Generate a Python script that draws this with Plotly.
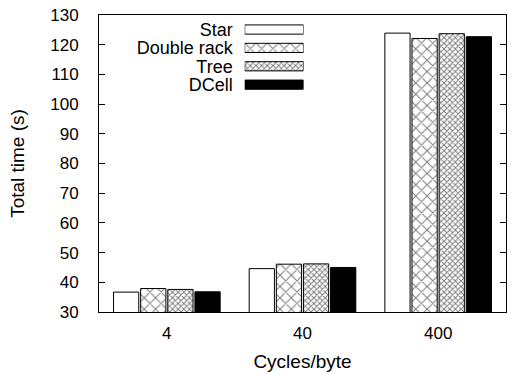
import plotly.graph_objects as go

categories = ["4", "40", "400"]
series_names = ["Star", "Double rack", "Tree", "DCell"]
star = [36.7, 44.6, 123.9]
double_rack = [37.9, 46.1, 122.1]
tree = [37.6, 46.2, 123.7]
dcell = [36.8, 45.0, 122.7]
y_ticks = [30, 40, 50, 60, 70, 80, 90, 100, 110, 120, 130]

values = [star, double_rack, tree, dcell]
styles = [
    dict(color="white", pattern=None),
    dict(color="white", pattern=dict(shape="x", fgcolor="black", bgcolor="white", size=8, solidity=0.25)),
    dict(color="white", pattern=dict(shape="x", fgcolor="black", bgcolor="white", size=4, solidity=0.45)),
    dict(color="black", pattern=None),
]

FONT = "Liberation Sans, Arial, sans-serif"
fig = go.Figure()
for name, vals, st in zip(series_names, values, styles):
    marker = dict(color=st["color"], line=dict(color="black", width=1))
    if st["pattern"]:
        marker["pattern"] = st["pattern"]
    fig.add_trace(go.Bar(x=categories, y=vals, name=name, marker=marker,
                         showlegend=False, xaxis="x", yaxis="y"))
    # legend key drawn as a horizontal swatch in a small inset axis
    fig.add_trace(go.Bar(x=[1], y=[name], orientation="h", marker=marker,
                         showlegend=False, hoverinfo="skip", xaxis="x2", yaxis="y2"))

fig.update_layout(
    width=512, height=374,
    margin=dict(l=99, r=5, t=15, b=60),
    paper_bgcolor="white", plot_bgcolor="white",
    barmode="group", bargap=0.2, bargroupgap=0.07,
    font=dict(family=FONT, size=16, color="black"),
    xaxis=dict(domain=[0, 1], range=[-0.5, 2.5], showline=True, linecolor="black",
               linewidth=1, mirror=True, ticks="", showgrid=False,
               ticklabelstandoff=6,
               title=dict(text="Cycles/byte", standoff=12), tickfont=dict(size=17)),
    yaxis=dict(domain=[0, 1], range=[30, 130], tickvals=y_ticks, showline=True,
               linecolor="black", linewidth=1, mirror="ticks", ticks="inside",
               ticklen=6, tickcolor="black", showgrid=False, zeroline=False,
               ticklabelstandoff=16, tickfont=dict(size=17),
               title=dict(text="Total time (s)", standoff=20)),
    xaxis2=dict(domain=[0.358, 0.5025], range=[0, 1], anchor="y2", visible=False,
                fixedrange=True),
    yaxis2=dict(domain=[0.7345, 0.982], anchor="x2", autorange="reversed",
                tickmode="array", tickvals=series_names, ticktext=series_names,
                categoryorder="array", categoryarray=series_names,
                showline=False, ticks="", showgrid=False, zeroline=False,
                ticklabelstandoff=11, tickfont=dict(size=18)),
)
fig.update_traces(selector=dict(xaxis="x2"), width=0.5)

fig.write_html("out.html")
